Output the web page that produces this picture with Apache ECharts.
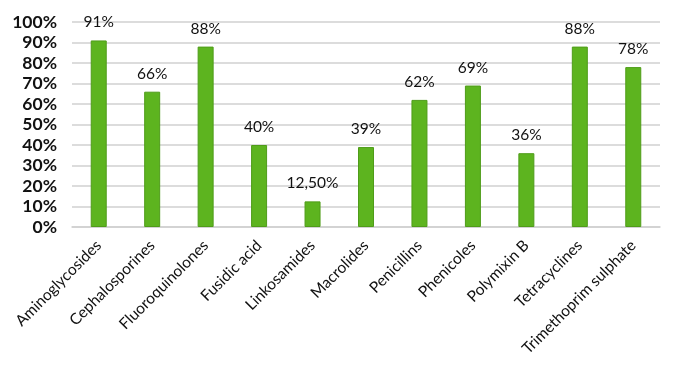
<!DOCTYPE html>
<html>
<head>
<meta charset="utf-8">
<script src="https://cdn.jsdelivr.net/npm/echarts@6/dist/echarts.min.js"></script>
<style>
html,body{margin:0;padding:0;background:#fff;}
#chart{width:680px;height:369px;}
</style>
</head>
<body>
<div id="chart"></div>
<script>
const categories = ["Aminoglycosides","Cephalosporines","Fluoroquinolones","Fusidic acid","Linkosamides","Macrolides","Penicillins","Phenicoles","Polymixin B","Tetracyclines","Trimethoprim sulphate"];
const values = [91, 66, 88, 40, 12.5, 39, 62, 69, 36, 88, 78];
const valueLabels = ["91%","66%","88%","40%","12,50%","39%","62%","69%","36%","88%","78%"];

const chart = echarts.init(document.getElementById('chart'), null, {renderer:'canvas'});
chart.setOption({
  animation:false,
  backgroundColor:'#ffffff',
  grid:{left:72, right:20, top:22, bottom:142, containLabel:false},
  xAxis:{
    type:'category',
    data:categories,
    axisLine:{show:true, lineStyle:{color:'#cfcfcf', width:1.5}},
    axisTick:{show:false},
    axisLabel:{rotate:45, margin:16, color:'#111', fontFamily:'Lato', fontSize:15.5, interval:0}
  },
  yAxis:{
    type:'value',
    min:0, max:100, interval:10,
    axisLine:{show:false},
    axisTick:{show:false},
    axisLabel:{formatter:'{value}%', color:'#111', fontFamily:'Lato', fontWeight:'bold', fontSize:17.5, margin:15},
    splitLine:{lineStyle:{color:'#d0d0d0', width:1.5}}
  },
  series:[{
    type:'bar',
    data:values,
    barWidth:16,
    itemStyle:{color:'#5db41f', borderColor:'#4f9c19', borderWidth:1},
    label:{
      show:true, position:'top', distance:10,
      color:'#111', fontFamily:'Lato', fontSize:15.5,
      formatter:function(p){return valueLabels[p.dataIndex];}
    }
  }]
});
</script>
</body>
</html>
